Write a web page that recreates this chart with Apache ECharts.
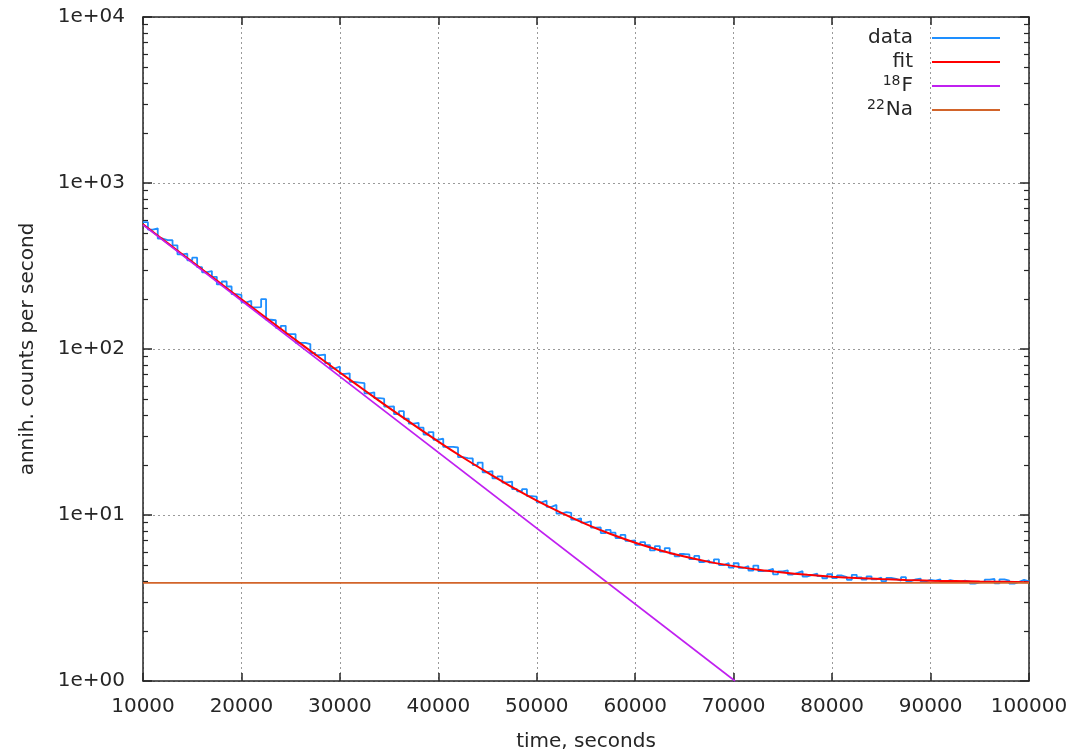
<!DOCTYPE html>
<html>
<head>
<meta charset="utf-8">
<script src="https://cdn.jsdelivr.net/npm/echarts@6/dist/echarts.min.js"></script>
<style>
  html, body { margin: 0; padding: 0; background: #fff; }
  #chart { width: 1072px; height: 751px; }
</style>
</head>
<body>
<div id="chart"></div>
<script>
// histogram bins: start time and width (seconds)
const binStart = 10000;
const binWidth = 500;

// measured annihilation count rate per bin
const dataCounts = [
  581, 524, 533, 463, 453, 452, 421, 372, 375, 342,
  355, 311, 290, 295, 272, 245, 255, 238, 214, 212,
  191, 195, 178, 179, 200, 150, 149, 134, 138, 123,
  123, 109, 109, 107, 94.6, 91.8, 92.6, 82.1, 76.5, 78.2,
  70.8, 71.4, 63.4, 62.8, 62.2, 54.1, 54.8, 50.6, 50.2, 45.0,
  45.1, 40.5, 42.2, 38.0, 35.5, 35.9, 33.6, 30.5, 31.6, 28.4,
  28.8, 25.7, 25.7, 25.5, 22.3, 22.0, 21.9, 20.0, 20.7, 18.1,
  18.4, 16.6, 17.1, 15.7, 15.9, 14.3, 13.9, 14.3, 13.0, 12.9,
  11.9, 12.2, 11.2, 11.5, 10.2, 10.4, 10.3, 9.37, 9.56, 9.0,
  9.17, 8.4, 8.41, 7.78, 8.13, 7.83, 7.27, 7.59, 6.99, 7.03,
  6.61, 6.86, 6.59, 6.12, 6.5, 6.02, 6.32, 5.85, 5.64, 5.82,
  5.79, 5.42, 5.67, 5.21, 5.34, 5.17, 5.41, 4.99, 5.13, 4.82,
  5.12, 4.81, 4.92, 4.63, 4.96, 4.59, 4.64, 4.74, 4.39, 4.58,
  4.64, 4.38, 4.48, 4.59, 4.26, 4.36, 4.43, 4.28, 4.16, 4.4,
  4.17, 4.32, 4.22, 4.07, 4.36, 4.21, 4.08, 4.27, 4.09, 4.2,
  4.0, 4.18, 4.12, 4.03, 4.22, 4.0, 4.09, 4.14, 3.98, 4.06,
  4.02, 4.1, 3.96, 4.05, 3.99, 3.94, 4.02, 3.97, 3.86, 3.93,
  3.95, 4.08, 4.12, 3.88, 4.1, 4.02, 3.86, 3.96, 4.07, 3.98,
  3.95
];

// fitted total curve
const fitTimes = [
  10000, 12500, 15000, 17500, 20000, 22500, 25000, 27500, 30000, 32500,
  35000, 37500, 40000, 42500, 45000, 47500, 50000, 52500, 55000, 57500,
  60000, 62500, 65000, 67500, 70000, 72500, 75000, 77500, 80000, 82500,
  85000, 87500, 90000, 92500, 95000, 97500, 100000
];
const fitValues = [
  563.9, 434.4, 334.8, 258.3, 199.4, 154.2, 119.4, 92.7, 72.2, 56.4,
  44.2, 34.9, 27.7, 22.2, 18.0, 14.7, 12.2, 10.3, 8.82, 7.68,
  6.81, 6.14, 5.62, 5.22, 4.92, 4.68, 4.50, 4.36, 4.25, 4.17,
  4.11, 4.06, 4.02, 4.00, 3.97, 3.96, 3.94
];

// 18F component (straight on log scale) and 22Na background
const f18Times = [10000, 70140];
const f18Values = [560, 1];
const naTimes = [10000, 100000];
const naValues = [3.9, 3.9];

const xTicks = { min: 10000, max: 100000, interval: 10000 };
const yRange = { min: 1, max: 10000 };

const minorTicks = [];
[1, 10, 100, 1000].forEach(d => {
  for (let m = 2; m <= 9; m++) minorTicks.push(m * d);
});

const pairs = (xs, ys) => xs.map((x, i) => [x, ys[i]]);
const dataPoints = dataCounts.map((v, i) => [binStart + i * binWidth, v]);

const font = 'DejaVu Sans';
const ink = '#262626';
const gridLine = { show: true, lineStyle: { color: '#9a9a9a', width: 1, type: [2, 3] } };
const border = { show: true, onZero: false, lineStyle: { color: ink, width: 1.5 } };

const chart = echarts.init(document.getElementById('chart'));
chart.setOption({
  animation: false,
  backgroundColor: '#fff',
  grid: { left: 143, right: 43, top: 17, bottom: 70, outerBoundsMode: 'none' },
  legend: {
    orient: 'vertical',
    right: 67,
    top: 21,
    align: 'right',
    icon: 'rect',
    itemWidth: 68,
    itemHeight: 2,
    itemGap: 0,
    selectedMode: false,
    data: ['data', 'fit', 'F18', 'Na22'],
    formatter: name => ({ F18: '{sup|18}F', Na22: '{sup|22}Na' }[name] || name),
    textStyle: {
      fontFamily: font, fontSize: 20, color: ink, lineHeight: 24,
      padding: [0, 14, 0, 0],
      rich: {
        sup: { fontFamily: font, fontSize: 14, color: ink, verticalAlign: 'top', lineHeight: 14, padding: [0, 1, 8, 0] }
      }
    }
  },
  xAxis: [
    {
      type: 'value', position: 'bottom', ...xTicks,
      name: 'time, seconds', nameLocation: 'middle', nameGap: 51,
      nameTextStyle: { fontFamily: font, fontSize: 20, color: ink },
      axisLine: border,
      axisTick: { inside: true, length: 8, lineStyle: { color: ink, width: 1.5 } },
      axisLabel: { fontFamily: font, fontSize: 20, color: ink, margin: 16, formatter: v => String(v) },
      splitLine: gridLine
    },
    {
      type: 'value', position: 'top', ...xTicks,
      axisLine: border,
      axisTick: { inside: true, length: 8, lineStyle: { color: ink, width: 1.5 } },
      axisLabel: { show: false },
      splitLine: { show: false }
    }
  ],
  yAxis: [
    {
      type: 'log', logBase: 10, position: 'left', ...yRange,
      name: 'annih. counts per second', nameLocation: 'middle', nameGap: 105,
      nameTextStyle: { fontFamily: font, fontSize: 20, color: ink },
      axisLine: border,
      axisTick: { inside: true, length: 9, lineStyle: { color: ink, width: 1.5 } },
      axisLabel: {
        fontFamily: font, fontSize: 20, color: ink, margin: 18,
        formatter: v => '1e+' + String(Math.round(Math.log10(v))).padStart(2, '0')
      },
      splitLine: gridLine
    },
    {
      type: 'log', logBase: 10, position: 'left', ...yRange,
      axisLine: { show: false },
      axisTick: { inside: true, length: 5, customValues: minorTicks, lineStyle: { color: ink, width: 1.2 } },
      axisLabel: { show: false },
      splitLine: { show: false }
    },
    {
      type: 'log', logBase: 10, position: 'right', ...yRange,
      axisLine: border,
      axisTick: { inside: true, length: 9, lineStyle: { color: ink, width: 1.5 } },
      axisLabel: { show: false },
      splitLine: { show: false }
    },
    {
      type: 'log', logBase: 10, position: 'right', ...yRange,
      axisLine: { show: false },
      axisTick: { inside: true, length: 5, customValues: minorTicks, lineStyle: { color: ink, width: 1.2 } },
      axisLabel: { show: false },
      splitLine: { show: false }
    }
  ],
  series: [
    {
      name: 'data', type: 'line', step: 'end', data: dataPoints,
      showSymbol: false, silent: true,
      itemStyle: { color: '#1e8fff' },
      lineStyle: { color: '#1e8fff', width: 1.8 }
    },
    {
      name: 'fit', type: 'line', data: pairs(fitTimes, fitValues),
      showSymbol: false, silent: true, smooth: 0.3,
      itemStyle: { color: '#ff0000' },
      lineStyle: { color: '#ff0000', width: 2 }
    },
    {
      name: 'F18', type: 'line', data: pairs(f18Times, f18Values),
      showSymbol: false, silent: true,
      itemStyle: { color: '#c020f0' },
      lineStyle: { color: '#c020f0', width: 1.6 }
    },
    {
      name: 'Na22', type: 'line', data: pairs(naTimes, naValues),
      showSymbol: false, silent: true,
      itemStyle: { color: '#d2642a' },
      lineStyle: { color: '#d2642a', width: 1.6 }
    }
  ]
});
</script>
</body>
</html>
